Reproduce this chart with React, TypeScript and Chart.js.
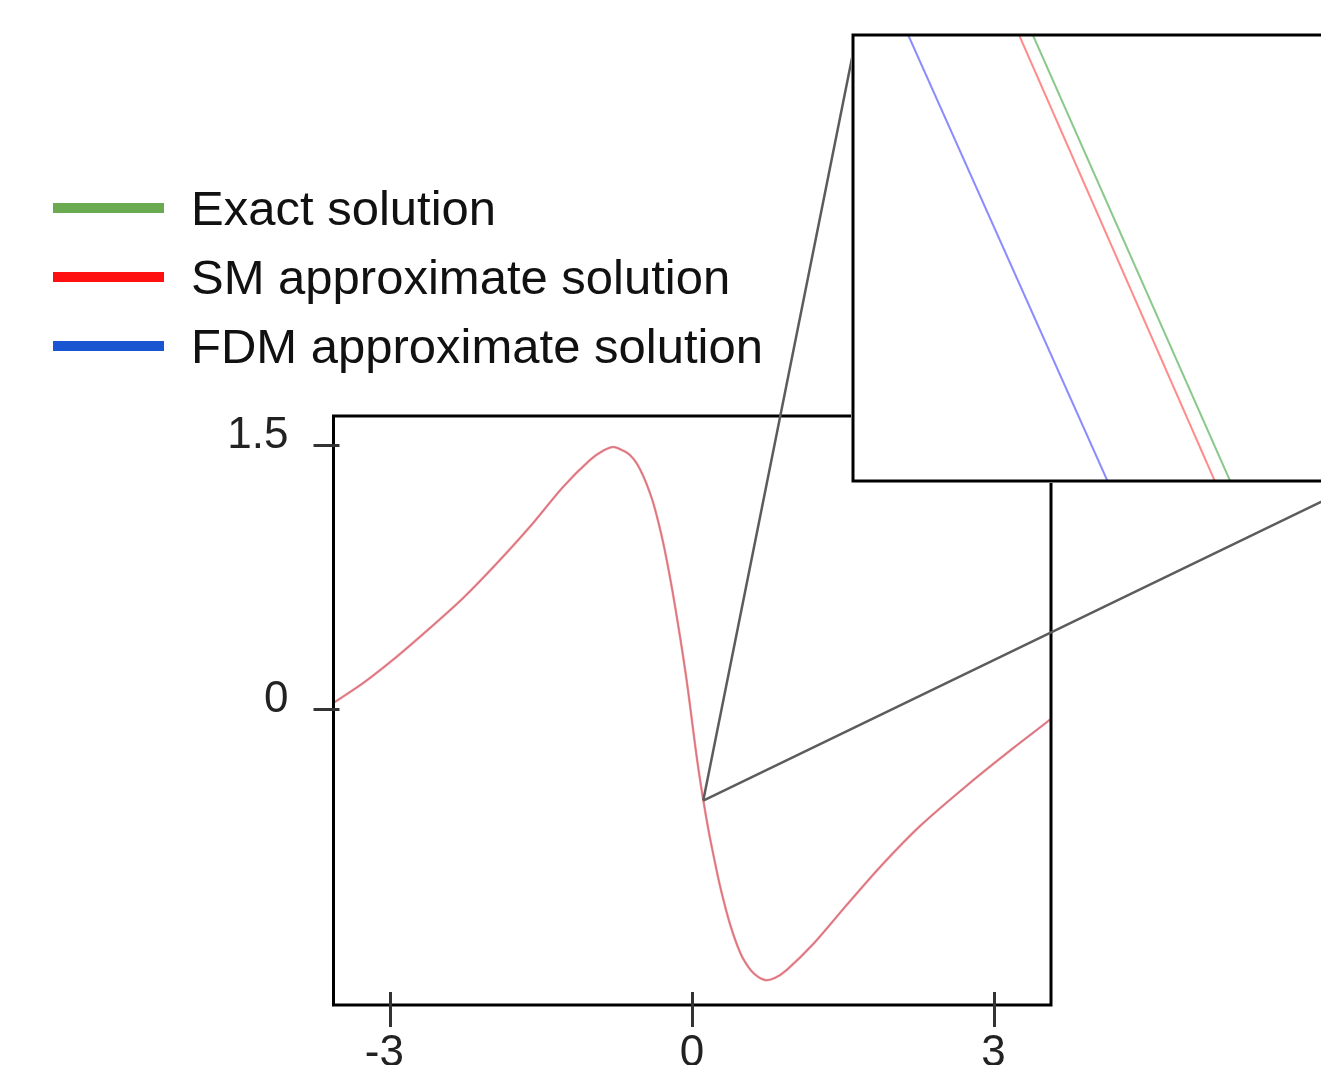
import React, { useEffect, useRef } from 'react';
import { Chart, registerables } from 'chart.js';

Chart.register(...registerables);

// ---------- data ----------
const seriesLabels = ['Exact solution', 'SM approximate solution', 'FDM approximate solution'];

// main curve (the three solutions coincide at this scale)
const mainX = [
  -3.567, -3.271, -2.938, -2.607, -2.276, -1.943, -1.612, -1.281, -1.015, -0.883, -0.783,
  -0.684, -0.617, -0.55, -0.485, -0.418, -0.368, -0.286, -0.202, -0.119, -0.08, -0.04,
  0.0, 0.035, 0.07, 0.112, 0.162, 0.199, 0.246, 0.279, 0.328, 0.378, 0.445, 0.51,
  0.61, 0.726, 0.826, 0.942, 1.207, 1.539, 1.871, 2.269, 2.766, 3.197, 3.572,
];
const exactY = [
  0.035, 0.148, 0.297, 0.46, 0.631, 0.827, 1.036, 1.263, 1.415, 1.468, 1.489,
  1.468, 1.443, 1.396, 1.324, 1.227, 1.136, 0.943, 0.695, 0.411, 0.267, 0.108,
  -0.068, -0.222, -0.364, -0.517, -0.682, -0.79, -0.92, -1.006, -1.119, -1.222, -1.335, -1.42,
  -1.5, -1.54, -1.528, -1.483, -1.335, -1.114, -0.898, -0.665, -0.42, -0.222, -0.057,
];
const smY = [
  0.035, 0.148, 0.297, 0.46, 0.631, 0.827, 1.036, 1.263, 1.415, 1.468, 1.489,
  1.468, 1.443, 1.396, 1.324, 1.227, 1.136, 0.943, 0.695, 0.411, 0.267, 0.108,
  -0.068, -0.222, -0.364, -0.517, -0.682, -0.79, -0.92, -1.006, -1.119, -1.222, -1.335, -1.42,
  -1.5, -1.54, -1.528, -1.483, -1.335, -1.114, -0.898, -0.665, -0.42, -0.222, -0.057,
];
const fdmY = [
  0.035, 0.148, 0.297, 0.46, 0.631, 0.827, 1.036, 1.263, 1.415, 1.468, 1.489,
  1.468, 1.443, 1.396, 1.324, 1.227, 1.136, 0.943, 0.695, 0.411, 0.267, 0.108,
  -0.068, -0.222, -0.364, -0.517, -0.682, -0.79, -0.92, -1.006, -1.119, -1.222, -1.335, -1.42,
  -1.5, -1.54, -1.528, -1.483, -1.335, -1.114, -0.898, -0.665, -0.42, -0.222, -0.057,
];

const xTickValues = [-3, 0, 3];
const xTickLabels = ['-3 ', '0', '3'];
const yTickValues = [0, 1.5];
const yTickLabels = ['0', '1.5'];

// zoomed region (centre of the magnified window)
const zoomX = [0.112];
const zoomY = [-0.52];

// inset (magnified) data
const insetY = [-0.513, -0.5272];
const insetExactX = [0.10952, 0.11338];
const insetSmX = [0.10925, 0.11308];
const insetFdmX = [0.10708, 0.11098];

// ---------- styles / layout ----------
const FONT = 'Liberation Sans, Arial, Helvetica, sans-serif';
const legendColors = ['#6aaa50', '#ff1010', '#1a55d2'];
const mainLineColors = ['rgba(40,150,40,0.35)', 'rgba(255,95,95,0.6)', 'rgba(110,60,220,0.42)'];
const insetLineColors = ['#8cc88c', '#ff8c8c', '#8c8cff'];

const INSET = { left: 851, top: 33, width: 515, height: 450, pad: 2 };

const pts = (xs: number[], ys: number[]) => xs.map((x, i) => ({ x, y: ys[i] }));

const mainPlugin = {
  id: 'mainDecor',
  afterDraw(chart: any) {
    const { ctx, chartArea } = chart;
    const xs = chart.scales.x;
    const ys = chart.scales.y;
    ctx.save();
    // frame
    ctx.strokeStyle = '#000';
    ctx.lineWidth = 3;
    ctx.strokeRect(chartArea.left, chartArea.top, chartArea.right - chartArea.left, chartArea.bottom - chartArea.top);
    // tick marks
    ctx.strokeStyle = '#333';
    ctx.lineWidth = 3;
    ys.ticks.forEach((t: any) => {
      const p = Math.round(ys.getPixelForValue(t.value)) + 0.5;
      ctx.beginPath();
      ctx.moveTo(chartArea.left - 20, p);
      ctx.lineTo(chartArea.left + 6, p);
      ctx.stroke();
    });
    xs.ticks.forEach((t: any) => {
      const p = Math.round(xs.getPixelForValue(t.value)) + 0.5;
      ctx.beginPath();
      ctx.moveTo(p, chartArea.bottom - 13);
      ctx.lineTo(p, chartArea.bottom + 22);
      ctx.stroke();
    });
    // connector lines to the magnified window
    const zx = xs.getPixelForValue(zoomX[0]);
    const zy = ys.getPixelForValue(zoomY[0]);
    const insLeft = INSET.left + INSET.pad;
    const insRight = INSET.left + INSET.width - INSET.pad;
    const insBottom = INSET.top + INSET.height - INSET.pad;
    ctx.strokeStyle = '#5c5c5c';
    ctx.lineWidth = 2.5;
    ctx.beginPath();
    ctx.moveTo(zx, zy);
    ctx.lineTo(insLeft - 1, INSET.top + 25);
    ctx.moveTo(zx, zy);
    ctx.lineTo(insRight, insBottom);
    ctx.stroke();
    // legend
    ctx.font = `49px ${FONT}`;
    ctx.textBaseline = 'alphabetic';
    ctx.textAlign = 'left';
    seriesLabels.forEach((lab, i) => {
      const base = 225 + i * 69;
      ctx.strokeStyle = legendColors[i];
      ctx.lineWidth = 10;
      ctx.beginPath();
      ctx.moveTo(53, base - 17);
      ctx.lineTo(164, base - 17);
      ctx.stroke();
      ctx.fillStyle = '#111';
      ctx.fillText(lab, 191, base);
    });
    ctx.restore();
  },
};

const insetPlugin = {
  id: 'insetDecor',
  beforeDraw(chart: any) {
    const { ctx } = chart;
    ctx.save();
    ctx.fillStyle = '#fff';
    ctx.fillRect(0, 0, chart.width, chart.height);
    ctx.restore();
  },
  afterDraw(chart: any) {
    const { ctx, chartArea } = chart;
    ctx.save();
    ctx.strokeStyle = '#000';
    ctx.lineWidth = 3;
    ctx.strokeRect(chartArea.left, chartArea.top, chartArea.right - chartArea.left, chartArea.bottom - chartArea.top);
    ctx.restore();
  },
};

export default function App() {
  const mainRef = useRef<HTMLCanvasElement>(null);
  const insetRef = useRef<HTMLCanvasElement>(null);

  useEffect(() => {
    const tickFont = { family: FONT, size: 44 };
    const lineOpts = { pointRadius: 0, tension: 0.3 };
    const main = new Chart(mainRef.current as HTMLCanvasElement, {
      type: 'line',
      data: {
        datasets: [
          { label: seriesLabels[0], data: pts(mainX, exactY), borderColor: mainLineColors[0], borderWidth: 1.5, order: 2, ...lineOpts },
          { label: seriesLabels[1], data: pts(mainX, smY), borderColor: mainLineColors[1], borderWidth: 2.5, order: 0, ...lineOpts },
          { label: seriesLabels[2], data: pts(mainX, fdmY), borderColor: mainLineColors[2], borderWidth: 1.3, order: 1, ...lineOpts },
        ],
      } as any,
      options: {
        animation: false,
        responsive: false,
        layout: { padding: { top: 416, right: 270, left: 0, bottom: 0 } },
        plugins: { legend: { display: false }, tooltip: { enabled: false } },
        scales: {
          x: {
            type: 'linear',
            min: -3.567,
            max: 3.572,
            afterBuildTicks: (s: any) => { s.ticks = xTickValues.map((v) => ({ value: v })); },
            afterFit: (s: any) => { s.height = 60; },
            grid: { display: false, drawTicks: false },
            border: { display: false },
            ticks: {
              font: tickFont,
              color: '#222',
              padding: 22,
              maxRotation: 0,
              autoSkip: false,
              callback: (v: any) => xTickLabels[xTickValues.indexOf(Number(v))] ?? '',
            },
          },
          y: {
            type: 'linear',
            min: -1.682,
            max: 1.665,
            afterBuildTicks: (s: any) => { s.ticks = yTickValues.map((v) => ({ value: v })); },
            afterFit: (s: any) => { s.width = 333.5; },
            grid: { display: true, drawOnChartArea: false, drawTicks: true, tickLength: 45, color: 'rgba(0,0,0,0)' },
            border: { display: false },
            ticks: {
              font: tickFont,
              color: '#222',
              padding: 0,
              labelOffset: -9,
              autoSkip: false,
              callback: (v: any) => yTickLabels[yTickValues.indexOf(Number(v))] ?? '',
            },
          },
        },
      } as any,
      plugins: [mainPlugin],
    });

    const inset = new Chart(insetRef.current as HTMLCanvasElement, {
      type: 'line',
      data: {
        datasets: [
          { label: seriesLabels[0], data: pts(insetExactX, insetY), borderColor: insetLineColors[0], borderWidth: 2, pointRadius: 0 },
          { label: seriesLabels[1], data: pts(insetSmX, insetY), borderColor: insetLineColors[1], borderWidth: 2, pointRadius: 0 },
          { label: seriesLabels[2], data: pts(insetFdmX, insetY), borderColor: insetLineColors[2], borderWidth: 2, pointRadius: 0 },
        ],
      } as any,
      options: {
        animation: false,
        responsive: false,
        layout: { padding: INSET.pad },
        plugins: { legend: { display: false }, tooltip: { enabled: false } },
        scales: {
          x: { type: 'linear', min: 0.106, max: 0.116, display: false },
          y: { type: 'linear', min: -0.5272, max: -0.513, display: false },
        },
      } as any,
      plugins: [insetPlugin],
    });

    return () => {
      main.destroy();
      inset.destroy();
    };
  }, []);

  return (
    <div style={{ position: 'absolute', left: 0, top: 0, width: 1321, height: 1065, overflow: 'hidden', background: '#fff' }}>
      <canvas ref={mainRef} width={1321} height={1065} style={{ position: 'absolute', left: 0, top: 0, display: 'block' }} />
      <canvas
        ref={insetRef}
        width={INSET.width}
        height={INSET.height}
        style={{ position: 'absolute', left: INSET.left, top: INSET.top, display: 'block' }}
      />
    </div>
  );
}
